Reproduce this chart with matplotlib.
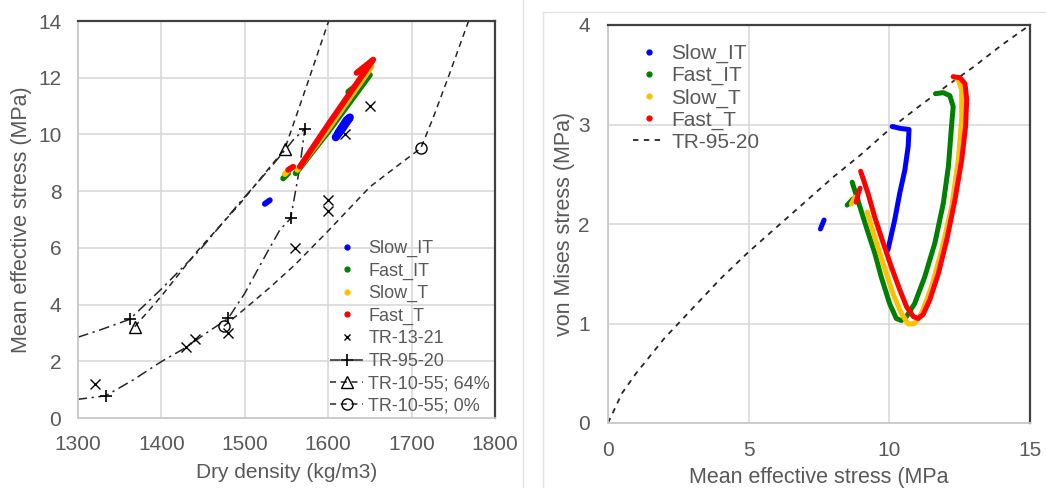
import matplotlib
matplotlib.use("Agg")
import matplotlib.pyplot as plt
from matplotlib.lines import Line2D

plt.rcParams['font.family'] = ['Liberation Sans', 'DejaVu Sans']

# ---------------- Left panel data: dry density vs mean effective stress ----------------
tr1321_x = [1320, 1430, 1440, 1480, 1560, 1600, 1600, 1620, 1650]
tr1321_y = [1.2, 2.5, 2.8, 3.0, 6.0, 7.7, 7.3, 10.0, 11.0]

tr9520_line_x = [1300, 1326, 1362, 1400, 1446, 1494, 1530, 1558, 1572,
                 1566, 1555, 1542, 1526, 1500, 1480, 1454, 1429, 1400, 1366, 1333, 1300]
tr9520_line_y = [2.85, 3.1, 3.48, 4.55, 5.92, 7.6, 8.8, 9.8, 10.2,
                 8.86, 7.04, 6.63, 5.8, 4.4, 3.51, 3.0, 2.48, 1.99, 1.34, 0.78, 0.66]
tr9520_mark_x = [1333, 1362, 1480, 1555, 1572]
tr9520_mark_y = [0.78, 3.48, 3.51, 7.04, 10.2]

tr1055_64_x = [1368, 1400, 1442, 1494, 1548, 1574, 1604]
tr1055_64_y = [3.22, 4.3, 5.85, 7.55, 9.49, 11.7, 14.3]
tr1055_64_mx = [1368, 1548]
tr1055_64_my = [3.22, 9.49]

tr1055_0_x = [1475, 1500, 1530, 1560, 1600, 1650, 1690, 1711, 1726, 1745, 1772]
tr1055_0_y = [3.24, 3.85, 4.6, 5.4, 6.6, 8.15, 9.05, 9.51, 10.6, 12.1, 14.3]
tr1055_0_mx = [1475, 1711]
tr1055_0_my = [3.24, 9.51]

slowIT_L_a_x = [1524, 1530]
slowIT_L_a_y = [7.55, 7.68]
slowIT_L_b_x = [1609, 1618, 1626, 1622, 1612]
slowIT_L_b_y = [9.9, 10.25, 10.6, 10.5, 10.05]

fastIT_L_a_x = [1546, 1552]
fastIT_L_a_y = [8.45, 8.63]
fastIT_L_b_x = [1561, 1580, 1600, 1625, 1650, 1624]
fastIT_L_b_y = [8.63, 9.35, 10.1, 11.1, 12.1, 11.5]

slowT_L_a_x = [1548, 1553]
slowT_L_a_y = [8.6, 8.75]
slowT_L_b_x = [1563, 1600, 1652]
slowT_L_b_y = [8.75, 10.2, 12.4]

fastT_L_a_x = [1552, 1558]
fastT_L_a_y = [8.75, 8.86]
fastT_L_b_x = [1566, 1600, 1654, 1634]
fastT_L_b_y = [8.86, 10.35, 12.64, 12.17]

# ---------------- Right panel data: mean effective stress vs von Mises ----------------
tr9520_R_x = [0, 0.15, 0.5, 1, 2, 3, 4, 5, 6, 7, 8, 9, 10, 11, 12, 13, 14, 15]
tr9520_R_y = [0, 0.09, 0.3, 0.5, 0.85, 1.15, 1.45, 1.72, 1.97, 2.22, 2.47, 2.7, 2.95, 3.17, 3.38, 3.58, 3.8, 4.0]

slowIT_R_a_x = [7.55, 7.68]
slowIT_R_a_y = [1.95, 2.04]
slowIT_R_b_x = [9.95, 10.19, 10.37, 10.55, 10.67, 10.70, 10.4, 10.1]
slowIT_R_b_y = [1.74, 2.04, 2.31, 2.54, 2.78, 2.95, 2.96, 2.98]

fastIT_R_a_x = [8.5, 8.7]
fastIT_R_a_y = [2.19, 2.25]
fastIT_R_b_x = [8.68, 8.88, 9.18, 9.48, 9.71, 10.01, 10.25, 10.43, 10.61, 10.9, 11.26,
                11.62, 11.92, 12.1, 12.21, 12.27, 12.15, 11.92, 11.64]
fastIT_R_b_y = [2.42, 2.24, 1.97, 1.71, 1.47, 1.20, 1.05, 1.03, 1.07, 1.20, 1.47,
                1.81, 2.21, 2.58, 2.98, 3.18, 3.29, 3.32, 3.31]

slowT_R_a_x = [8.65, 8.78]
slowT_R_a_y = [2.2, 2.27]
slowT_R_b_x = [9.21, 9.48, 9.77, 10.13, 10.43, 10.67, 10.9, 11.14, 11.5, 11.86, 12.21,
               12.45, 12.57, 12.57, 12.45, 12.27]
slowT_R_b_y = [2.12, 1.87, 1.61, 1.30, 1.10, 0.995, 1.0, 1.10, 1.37, 1.74, 2.17,
               2.64, 3.05, 3.35, 3.45, 3.48]

fastT_R_a_x = [8.82, 8.9, 8.96]
fastT_R_a_y = [2.22, 2.31, 2.36]
fastT_R_b_x = [8.98, 9.24, 9.48, 9.77, 10.07, 10.37, 10.61, 10.85, 11.02, 11.2, 11.44,
               11.74, 12.04, 12.33, 12.57, 12.71, 12.75, 12.69, 12.51, 12.27]
fastT_R_b_y = [2.53, 2.31, 2.07, 1.82, 1.57, 1.34, 1.17, 1.07, 1.05, 1.09, 1.24,
               1.5, 1.84, 2.24, 2.64, 2.98, 3.25, 3.41, 3.47, 3.48]

left_xticks = [1300, 1400, 1500, 1600, 1700, 1800]
left_yticks = [0, 2, 4, 6, 8, 10, 12, 14]
right_xticks = [0, 5, 10, 15]
right_yticks = [0, 1, 2, 3, 4]

BLUE = '#0000ff'
GREEN = '#008000'
YELLOW = '#ffc000'
RED = '#ff0000'
TXT = '#595959'
GRID = '#d9d9d9'
DARK = '#404040'

W, H = 1046, 488
fig = plt.figure(figsize=(W / 100, H / 100), dpi=100)
fig.patch.set_facecolor('white')

# panel frame lines (right picture border)
fig.add_artist(Line2D([523 / W, 523 / W], [0, 1], color='#e3e3e3', lw=1.0))
fig.add_artist(Line2D([543 / W, 543 / W], [0, 1 - 12 / H], color='#e3e3e3', lw=1.0))
fig.add_artist(Line2D([543 / W, 1], [1 - 12 / H, 1 - 12 / H], color='#e3e3e3', lw=1.0))

def style_axes(ax):
    ax.grid(True, color=GRID, lw=1.2)
    ax.set_axisbelow(True)
    for s in ['top', 'right']:
        ax.spines[s].set_color(DARK)
        ax.spines[s].set_linewidth(1.6)
    for s in ['left', 'bottom']:
        ax.spines[s].set_color('#c8c8c8')
        ax.spines[s].set_linewidth(1.3)
    ax.tick_params(length=0, pad=12, labelsize=15, labelcolor=TXT)

kwL = dict(lw=4.2, solid_capstyle='round', solid_joinstyle='round')
kw = dict(lw=3.6, solid_capstyle='round', solid_joinstyle='round')

# ---------------- Left axes ----------------
axL = fig.add_axes([78 / W, 1 - 418 / H, (495 - 78) / W, (418 - 21) / H])
style_axes(axL)
axL.set_xlim(1300, 1800)
axL.set_ylim(0, 14)
axL.set_xticks(left_xticks)
axL.set_yticks(left_yticks)

dd = (0, (7, 3, 1.5, 3))
axL.plot(tr9520_line_x, tr9520_line_y, color='#262626', lw=1.1, linestyle=dd)
axL.plot(tr9520_mark_x, tr9520_mark_y, linestyle='none', marker='+', ms=9, mew=1.2, color='black')
axL.plot(tr1055_64_x, tr1055_64_y, color='#262626', lw=1.1, linestyle=(0, (4, 3)))
axL.plot(tr1055_64_mx, tr1055_64_my, linestyle='none', marker='^', ms=8, mfc='none', mew=1.0, color='black')
axL.plot(tr1055_0_x, tr1055_0_y, color='#262626', lw=1.1, linestyle=(0, (4, 3)))
axL.plot(tr1055_0_mx, tr1055_0_my, linestyle='none', marker='o', ms=8, mfc='none', mew=1.0, color='black')
axL.plot(tr1321_x, tr1321_y, linestyle='none', marker='x', ms=6.5, mew=1.0, color='black')

axL.plot(slowIT_L_a_x, slowIT_L_a_y, color=BLUE, **kwL)
axL.plot(slowIT_L_b_x, slowIT_L_b_y, color=BLUE, lw=5.8, solid_capstyle='round', solid_joinstyle='round')
axL.plot(fastIT_L_a_x, fastIT_L_a_y, color=GREEN, **kwL)
axL.plot(fastIT_L_b_x, fastIT_L_b_y, color=GREEN, **kwL)
axL.plot(slowT_L_a_x, slowT_L_a_y, color=YELLOW, **kwL)
axL.plot(slowT_L_b_x, slowT_L_b_y, color=YELLOW, **kwL)
axL.plot(fastT_L_a_x, fastT_L_a_y, color=RED, **kwL)
axL.plot(fastT_L_b_x, fastT_L_b_y, color=RED, **kwL)

axL.set_xlabel('Dry density (kg/m3)', fontsize=15, color=TXT)
axL.set_ylabel('Mean effective stress (MPa)', fontsize=15.5, color=TXT)
axL.xaxis.label.set_va('center')
axL.yaxis.label.set_va('center')
axL.xaxis.set_label_coords(0.5, (418 - 472) / 397)
axL.yaxis.set_label_coords((22 - 78) / 417, 0.5)

hL = [
    Line2D([], [], linestyle='none', marker='o', ms=3.5, color=BLUE),
    Line2D([], [], linestyle='none', marker='o', ms=3.5, color=GREEN),
    Line2D([], [], linestyle='none', marker='o', ms=3.5, color=YELLOW),
    Line2D([], [], linestyle='none', marker='o', ms=3.5, color=RED),
    Line2D([], [], linestyle='none', marker='x', ms=5, mew=1.0, color='black'),
    Line2D([], [], linestyle=dd, lw=1.1, color='#262626', marker='+', ms=9, mew=1.2, mec='black'),
    Line2D([], [], linestyle=(0, (4, 3)), lw=1.1, color='#262626', marker='^', ms=8, mfc='none', mec='black'),
    Line2D([], [], linestyle=(0, (4, 3)), lw=1.1, color='#262626', marker='o', ms=8, mfc='none', mec='black'),
]
labL = ['Slow_IT', 'Fast_IT', 'Slow_T', 'Fast_T', 'TR-13-21', 'TR-95-20', 'TR-10-55; 64%', 'TR-10-55; 0%']
legL = fig.legend(hL, labL, loc='upper left', bbox_to_anchor=(330 / W, 1 - 240 / H),
                  frameon=False, fontsize=13, borderpad=0, borderaxespad=0,
                  handlelength=1.85, handletextpad=0.28, labelspacing=0.30)
for t in legL.get_texts():
    t.set_color(TXT)

# ---------------- Right axes ----------------
axR = fig.add_axes([608 / W, 1 - 423 / H, (1030 - 608) / W, (423 - 25) / H])
style_axes(axR)
axR.set_xlim(0, 15)
axR.set_ylim(0, 4)
axR.set_xticks(right_xticks)
axR.set_yticks(right_yticks)
axR.tick_params(pad=13)

axR.plot(tr9520_R_x, tr9520_R_y, color='#262626', lw=1.3, linestyle=(0, (3, 3)))
axR.plot(slowIT_R_a_x, slowIT_R_a_y, color=BLUE, **kw)
axR.plot(slowIT_R_b_x, slowIT_R_b_y, color=BLUE, **kw)
axR.plot(fastIT_R_a_x, fastIT_R_a_y, color=GREEN, **kw)
axR.plot(fastIT_R_b_x, fastIT_R_b_y, color=GREEN, **kw)
axR.plot(slowT_R_a_x, slowT_R_a_y, color=YELLOW, **kw)
axR.plot(slowT_R_b_x, slowT_R_b_y, color=YELLOW, **kw)
axR.plot(fastT_R_a_x, fastT_R_a_y, color=RED, **kw)
axR.plot(fastT_R_b_x, fastT_R_b_y, color=RED, **kw)

axR.set_xlabel('Mean effective stress (MPa', fontsize=15.5, color=TXT)
axR.set_ylabel('von Mises stress (MPa)', fontsize=15.5, color=TXT)
axR.xaxis.label.set_va('center')
axR.yaxis.label.set_va('center')
axR.xaxis.set_label_coords(0.5, (423 - 477) / 398)
axR.yaxis.set_label_coords((564 - 608) / 422, 0.5)

hR = [
    Line2D([], [], linestyle='none', marker='o', ms=3.5, color=BLUE),
    Line2D([], [], linestyle='none', marker='o', ms=3.5, color=GREEN),
    Line2D([], [], linestyle='none', marker='o', ms=3.5, color=YELLOW),
    Line2D([], [], linestyle='none', marker='o', ms=3.5, color=RED),
    Line2D([], [], linestyle=(0, (3, 3)), lw=1.3, color='#262626'),
]
labR = ['Slow_IT', 'Fast_IT', 'Slow_T', 'Fast_T', 'TR-95-20']
legR = fig.legend(hR, labR, loc='upper left', bbox_to_anchor=(633 / W, 1 - 44 / H),
                  frameon=False, fontsize=15, borderpad=0, borderaxespad=0,
                  handlelength=1.5, handletextpad=0.33, labelspacing=0.14)
for t in legR.get_texts():
    t.set_color(TXT)

fig.savefig('out.png', dpi=100, facecolor='white')
